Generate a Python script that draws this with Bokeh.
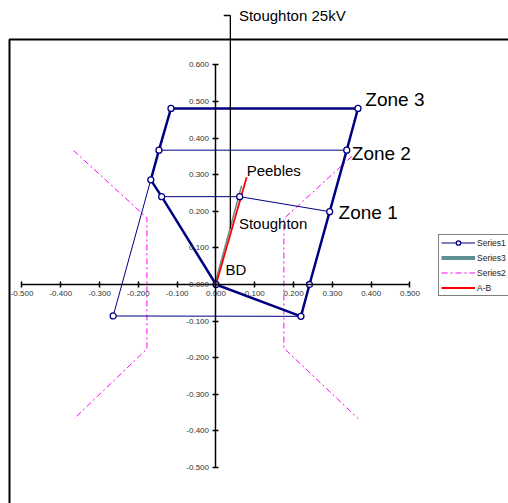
from bokeh.plotting import figure
from bokeh.models import (LinearAxis, FixedTicker, PrintfTickFormatter, Range1d,
                          Legend, LegendItem, BoxAnnotation)
from bokeh.core.properties import value
from bokeh.embed import file_html
from bokeh.resources import INLINE

# ---------------- data ----------------
x_ticks = [-0.5, -0.4, -0.3, -0.2, -0.1, 0.0, 0.1, 0.2, 0.3, 0.4, 0.5]
y_ticks = [-0.5, -0.4, -0.3, -0.2, -0.1, 0.0, 0.1, 0.2, 0.3, 0.4, 0.5, 0.6]

# Series1 - main zone polygon (thick)
zone_x = [0.000, 0.219, 0.241, 0.293, 0.337, 0.366, -0.116, -0.147, -0.168, -0.140, 0.000]
zone_y = [0.000, -0.087, 0.000, 0.199, 0.367, 0.481, 0.481, 0.367, 0.286, 0.240, 0.000]
# Series1 - thin reach lines
zone2_x = [-0.147, 0.337]
zone2_y = [0.367, 0.367]
zone1_x = [-0.140, 0.061, 0.293]
zone1_y = [0.240, 0.240, 0.199]
base_x = [-0.168, -0.265, 0.219]
base_y = [0.286, -0.086, -0.087]
# marker points
mark_x = zone_x[:-1] + [0.061, -0.265]
mark_y = zone_y[:-1] + [0.240, -0.086]

# Series2 - load blinders (dash-dot)
s2_left_x = [-0.367, -0.178, -0.178, -0.366]
s2_left_y = [0.366, 0.182, -0.176, -0.367]
s2_right_x = [0.350, 0.175, 0.175, 0.367]
s2_right_y = [0.350, 0.180, -0.174, -0.367]

# Series3 and A-B
s3_x = [-0.003, 0.066]
s3_y = [0.000, 0.270]
ab_x = [0.000, 0.079]
ab_y = [0.000, 0.293]

# Stoughton 25kV feeder marker line
feeder_x = [0.020, 0.037, 0.037]
feeder_y = [0.735, 0.735, 0.153]

# annotations
big_labels = ["Zone 3", "Zone 2", "Zone 1"]
big_x = [0.385, 0.350, 0.316]
big_y = [0.505, 0.359, 0.196]
small_labels = ["Peebles", "Stoughton", "BD", "Stoughton 25kV"]
small_x = [0.079, 0.059, 0.0245, 0.059]
small_y = [0.311, 0.166, 0.040, 0.735]

# ---------------- figure ----------------
X0, X1 = -0.5554, 0.7539
Y0, Y1 = -0.5984, 0.7760
p = figure(width=508, height=503, x_range=Range1d(X0, X1), y_range=Range1d(Y0, Y1),
           output_backend="svg", toolbar_location=None,
           x_axis_location=None, y_axis_location=None, min_border=0)
p.grid.visible = False
p.outline_line_color = None
p.background_fill_color = "white"
p.border_fill_color = "white"

# chart area border
p.add_layout(BoxAnnotation(left=-0.5322, right=X1 + 1, top=0.6694, bottom=Y0 - 1,
                           fill_alpha=0, line_color="black", line_alpha=1, line_width=2))

FONT = "Liberation Sans"
for side, ticks, bnds in (("below", x_ticks, (-0.5, 0.5)), ("left", y_ticks, (-0.5, 0.6))):
    ax = LinearAxis(fixed_location=0, ticker=FixedTicker(ticks=ticks),
                    formatter=PrintfTickFormatter(format="%.3f"), bounds=bnds)
    ax.axis_line_color = "black"
    ax.axis_line_width = 1.5
    ax.major_tick_line_color = "black"
    ax.major_tick_line_width = 1.5
    ax.major_tick_in = 3
    ax.major_tick_out = 3
    ax.minor_tick_line_color = None
    ax.major_label_text_font = FONT
    ax.major_label_text_font_size = "8px"
    ax.major_label_text_color = "#333333"
    ax.major_label_standoff = 4
    p.add_layout(ax, side)

NAVY = "#000080"
# Series2
s2a = p.line(s2_left_x, s2_left_y, line_color="#ff00ff", line_width=1, line_dash="6 3 2 3")
p.line(s2_right_x, s2_right_y, line_color="#ff00ff", line_width=1, line_dash="6 3 2 3")
# Series1
p.line(zone_x, zone_y, line_color=NAVY, line_width=2.5)
thin = p.line(zone2_x, zone2_y, line_color=NAVY, line_width=1)
p.line(zone1_x, zone1_y, line_color=NAVY, line_width=1)
p.line(base_x, base_y, line_color=NAVY, line_width=1)
# Series3 and A-B
p.line(s3_x, s3_y, line_color="#5f8f8f", line_width=1.5)
ab = p.line(ab_x, ab_y, line_color="#ff0000", line_width=1.8)
mk = p.scatter(mark_x, mark_y, marker="circle", size=6, line_color=NAVY,
               fill_color="white", line_width=1.3)
# feeder line
p.line(feeder_x, feeder_y, line_color="black", line_width=1.3)

# legend-only glyph for Series3 (single point: draws nothing in the plot)
s3leg = p.line(s3_x[:1], s3_y[:1], line_color="#5f8f8f", line_width=4)

p.text(big_x, big_y, text=big_labels, text_font=value(FONT), text_font_size="19px",
       text_baseline="middle", text_align="left", text_color="black")
p.text(small_x, small_y, text=small_labels, text_font=value(FONT), text_font_size="15px",
       text_baseline="middle", text_align="left", text_color="black")

legend = Legend(items=[LegendItem(label="Series1", renderers=[thin, mk]),
                       LegendItem(label="Series3", renderers=[s3leg]),
                       LegendItem(label="Series2", renderers=[s2a]),
                       LegendItem(label="A-B", renderers=[ab])],
                location=(438, 207), orientation="vertical",
                border_line_color="black", border_line_width=1,
                background_fill_color="white", background_fill_alpha=1,
                label_text_font=FONT, label_text_font_size="8.5px", label_text_color="#222222",
                glyph_width=34, glyph_height=11, label_height=11, spacing=4,
                padding=2, margin=0, label_standoff=2)
p.add_layout(legend)

open("out.html", "w").write(file_html(p, INLINE))
